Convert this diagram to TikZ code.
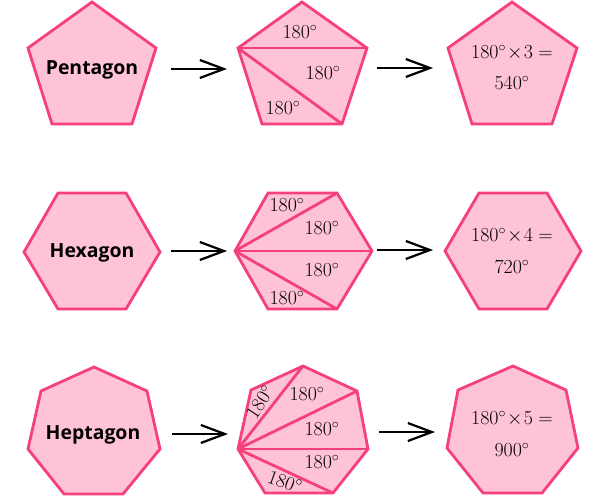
\RequirePackage{fix-cm}
\documentclass[tikz,border=0pt]{standalone}
\usepackage{fontspec}
\newfontfamily\labfont{Open Sans}
\usetikzlibrary{arrows.meta}
\definecolor{pfill}{HTML}{FFC3D8}
\definecolor{pline}{HTML}{F5407A}
\begin{document}
\begin{tikzpicture}[x=1bp,y=-1bp,
  poly/.style={draw=pline,fill=pfill,line width=2.8bp,line join=miter},
  diag/.style={draw=pline,line width=2.8bp},
  lab/.style={font=\labfont\bfseries\fontsize{19.5}{22}\selectfont,text=black,inner sep=0},
  ang/.style={font=\fontsize{20}{22}\selectfont,inner sep=0},
  arr/.style={draw=black,line width=2.2bp,-{Straight Barb[length=24bp,width=18bp,line width=2.2bp]}}
]
\useasboundingbox (0,0) rectangle (606,502);
% ---------- Row 1: pentagons
\draw[poly] (92,2) -- (156,48) -- (132,124) -- (52,124) -- (28,48) -- cycle;
\node[lab] (pent) at (92,70) {Pentagon};
\coordinate (pT) at (302,2); \coordinate (pL) at (238,48); \coordinate (pR) at (367,48);
\coordinate (pBL) at (262,124); \coordinate (pBR) at (342,124);
\draw[poly] (pT) -- (pR) -- (pBR) -- (pBL) -- (pL) -- cycle;
\draw[diag] (pL) -- (pR);
\draw[diag] (pL) -- (pBR);
\node[ang] (p1) at (300,32) {$180^\circ$};
\node[ang] (p2) at (323,73) {$180^\circ$};
\node[ang] (p3) at (283,108) {$180^\circ$};
\draw[poly] (512,2) -- (577,48) -- (552,124) -- (472,124) -- (448,48) -- cycle;
\node[ang] (pr1) at (512,53) {$180^\circ\!\times\!3=$};
\node[ang] (pr2) at (512,83) {$540^\circ$};
\coordinate (a1s) at (171,69); \coordinate (a1e) at (227,69);
\coordinate (b1s) at (377,68); \coordinate (b1e) at (433,68);
\draw[arr] (a1s) -- (a1e);
\draw[arr] (b1s) -- (b1e);
% ---------- Row 2: hexagons
\draw[poly] (58,193) -- (126,193) -- (160,252) -- (126,309) -- (58,309) -- (24,252) -- cycle;
\node[lab] (hex) at (92,253) {Hexagon};
\coordinate (hTL) at (268,193); \coordinate (hTR) at (337,193); \coordinate (hL) at (235,251);
\coordinate (hR) at (372,251); \coordinate (hBL) at (268,309); \coordinate (hBR) at (337,309);
\draw[poly] (hTL) -- (hTR) -- (hR) -- (hBR) -- (hBL) -- (hL) -- cycle;
\draw[diag] (hL) -- (hTR);
\draw[diag] (hL) -- (hR);
\draw[diag] (hL) -- (hBR);
\node[ang] (h1) at (287,205) {$180^\circ$};
\node[ang] (h2) at (322,228) {$180^\circ$};
\node[ang] (h3) at (322,270) {$180^\circ$};
\node[ang] (h4) at (287,298) {$180^\circ$};
\draw[poly] (479,193) -- (547,193) -- (581,251) -- (547,309) -- (479,309) -- (445,251) -- cycle;
\node[ang] (hr1) at (512,236) {$180^\circ\!\times\!4=$};
\node[ang] (hr2) at (512,267) {$720^\circ$};
\coordinate (a2s) at (171,251); \coordinate (a2e) at (227,251);
\coordinate (b2s) at (377,250); \coordinate (b2e) at (433,250);
\draw[arr] (a2s) -- (a2e);
\draw[arr] (b2s) -- (b2e);
% ---------- Row 3: heptagons
\draw[poly] (94,367) -- (147,391) -- (160,449) -- (123,494) -- (64,494) -- (28,449) -- (41,391) -- cycle;
\node[lab] (hep) at (93,435) {Heptagon};
\coordinate (eT) at (303,366); \coordinate (eUR) at (357,391); \coordinate (eR) at (368,449);
\coordinate (eBR) at (333,493); \coordinate (eBL) at (265,493); \coordinate (eL) at (238,449);
\coordinate (eUL) at (251,390);
\draw[poly] (eT) -- (eUR) -- (eR) -- (eBR) -- (eBL) -- (eL) -- (eUL) -- cycle;
\draw[diag] (eL) -- (eT);
\draw[diag] (eL) -- (eUR);
\draw[diag] (eL) -- (eR);
\draw[diag] (eL) -- (eBR);
\node[ang,rotate=57] (e1) at (260,402) {$180^\circ$};
\node[ang] (e2) at (307,394) {$180^\circ$};
\node[ang] (e3) at (322,429) {$180^\circ$};
\node[ang] (e4) at (322,462) {$180^\circ$};
\node[ang,rotate=-20] (e5) at (285,482) {$180^\circ$};
\draw[poly] (513,366) -- (566,390) -- (578,448) -- (542,493) -- (483,493) -- (447,448) -- (458,390) -- cycle;
\node[ang] (er1) at (512,419) {$180^\circ\!\times\!5=$};
\node[ang] (er2) at (512,450) {$900^\circ$};
\coordinate (a3s) at (172,434); \coordinate (a3e) at (228,434);
\coordinate (b3s) at (379,432); \coordinate (b3e) at (435,432);
\draw[arr] (a3s) -- (a3e);
\draw[arr] (b3s) -- (b3e);
\end{tikzpicture}
\end{document}
